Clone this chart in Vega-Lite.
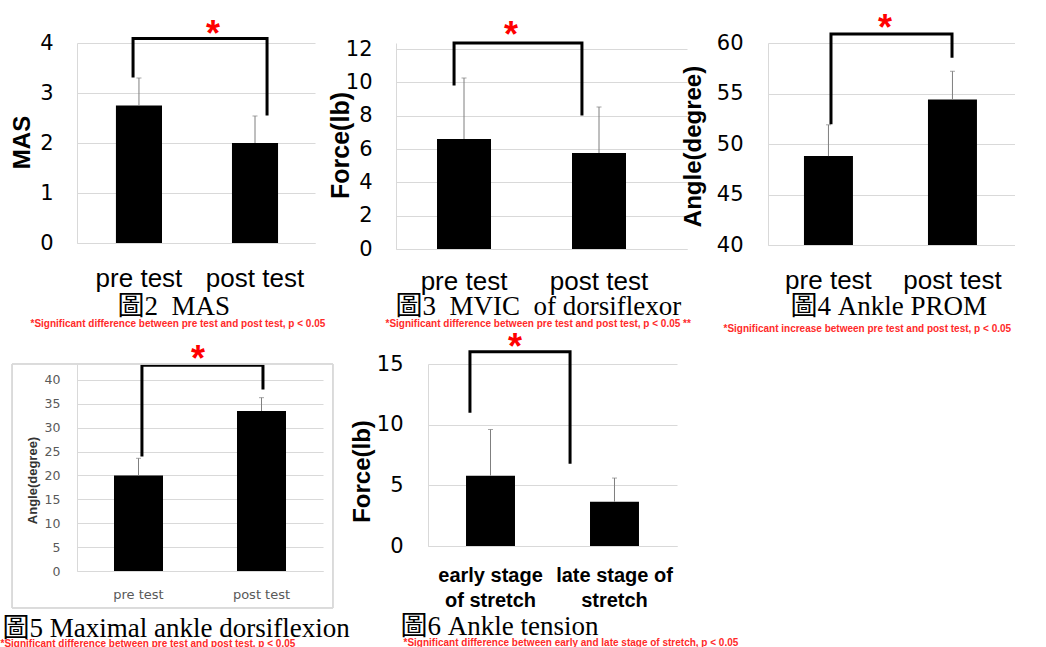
{
  "$schema": "https://vega.github.io/schema/vega-lite/v6.json",
  "background": "white",
  "padding": {"left": 0, "top": 10, "right": 0, "bottom": 0},
  "bounds": "flush",
  "spacing": 321,
  "config": {
    "view": {"stroke": null},
    "axis": {"labelOverlap": false, "ticks": false, "tickSize": 0, "gridColor": "#d9d9d9", "domainColor": "#d9d9d9", "labelColor": "#000000", "titleColor": "#000000", "titleLimit": 1000, "labelLimit": 1000}
  },
  "vconcat": [
    {
      "bounds": "flush",
      "spacing": 81,
      "hconcat": [
        {
          "width": 238, "height": 200,
          "resolve": {"scale": {"x": "independent"}, "axis": {"x": "independent", "y": "independent"}},
          "layer": [
            {
              "data": {"values": [{"group": "pre test", "mean": 2.75, "hi": 3.3}, {"group": "post test", "mean": 2.0, "hi": 2.54}]},
              "resolve": {"axis": {"y": "independent"}},
              "encoding": {
                "x": {"field": "group", "type": "nominal", "sort": null,
                  "scale": {"paddingInner": 0.603, "paddingOuter": 0.327, "align": 0.513},
                  "axis": {"labelAngle": 0, "grid": false, "domain": true, "labelFont": "Liberation Sans", "labelFontSize": 26, "labelBaseline": "alphabetic", "labelPadding": 43,
                    "title": "圖2\u00a0 MAS", "titleFont": "Liberation Serif, Noto Sans CJK TC", "titleFontSize": 27, "titleFontWeight": "normal", "titleAlign": "left", "titleBaseline": "alphabetic", "titleX": 40, "titleY": 71}}
              },
              "layer": [
                {"mark": {"type": "bar", "color": "#000000"},
                  "encoding": {"y": {"field": "mean", "type": "quantitative", "scale": {"domain": [0, 4], "nice": false},
                    "axis": {"values": [0, 1, 2, 3, 4], "labelOverlap": false, "grid": true, "domain": true, "labelFont": "DejaVu Sans", "labelFontSize": 21, "labelPadding": 24,
                      "title": "MAS", "titleFont": "Liberation Sans", "titleFontSize": 24, "titleFontWeight": "bold", "titleAngle": 270, "titleAlign": "center", "titleBaseline": "middle", "titleX": -55, "titleY": 99}}}},
                {"mark": {"type": "rule", "color": "#7f7f7f", "strokeWidth": 1},
                  "encoding": {"y": {"field": "mean", "type": "quantitative", "scale": {"domain": [0, 4], "nice": false}, "axis": null}, "y2": {"field": "hi"}}},
                {"mark": {"type": "tick", "color": "#7f7f7f", "thickness": 1, "size": 5},
                  "encoding": {"y": {"field": "hi", "type": "quantitative", "scale": {"domain": [0, 4], "nice": false}, "axis": null}}}
              ]
            },
            {
              "data": {"values": [{"bx": 0.471, "by": 3.34, "o": 1}, {"bx": 0.471, "by": 4.09, "o": 2}, {"bx": 1.597, "by": 4.09, "o": 3}, {"bx": 1.597, "by": 2.58, "o": 4}]},
              "mark": {"type": "line", "color": "#000000", "strokeWidth": 3, "strokeCap": "square", "strokeJoin": "miter"},
              "encoding": {
                "x": {"field": "bx", "type": "quantitative", "scale": {"domain": [0, 2], "nice": false, "zero": false},
                  "axis": {"orient": "bottom", "labels": false, "domain": false, "grid": false,
                    "title": "*Significant difference between pre test and post test, p < 0.05", "titleFont": "Liberation Sans", "titleFontSize": 10, "titleFontWeight": "bold", "titleColor": "#ff2a2a", "titleAlign": "left", "titleBaseline": "alphabetic", "titleX": -47, "titleY": 83}},
                "y": {"field": "by", "type": "quantitative", "scale": {"domain": [0, 4], "nice": false}, "axis": null},
                "order": {"field": "o"}
              }
            },
            {
              "data": {"values": [{"sx": 1.143, "sy": 3.95, "s": "*"}]},
              "mark": {"type": "text", "color": "#ff0000", "font": "Liberation Sans", "fontSize": 36, "fontWeight": "bold", "baseline": "alphabetic", "align": "center"},
              "encoding": {
                "x": {"field": "sx", "type": "quantitative", "scale": {"domain": [0, 2], "nice": false, "zero": false}, "axis": null},
                "y": {"field": "sy", "type": "quantitative", "scale": {"domain": [0, 4], "nice": false}, "axis": null},
                "text": {"field": "s"}
              }
            }
          ]
        },
        {
          "width": 291, "height": 206,
          "resolve": {"scale": {"x": "independent"}, "axis": {"x": "independent", "y": "independent"}},
          "layer": [
            {
              "data": {"values": [{"group": "pre test", "mean": 6.6, "hi": 10.26}, {"group": "post test", "mean": 5.76, "hi": 8.52}]},
              "resolve": {"axis": {"y": "independent"}},
              "encoding": {
                "x": {"field": "group", "type": "nominal", "sort": null,
                  "scale": {"paddingInner": 0.6, "paddingOuter": 0.3778, "align": 0.402},
                  "axis": {"labelAngle": 0, "grid": false, "domain": true, "labelFont": "Liberation Sans", "labelFontSize": 26, "labelBaseline": "alphabetic", "labelPadding": 40,
                    "title": "圖3\u00a0 MVIC\u00a0 of dorsiflexor", "titleFont": "Liberation Serif, Noto Sans CJK TC", "titleFontSize": 27, "titleFontWeight": "normal", "titleAlign": "left", "titleBaseline": "alphabetic", "titleX": -1, "titleY": 65}}
              },
              "layer": [
                {"mark": {"type": "bar", "color": "#000000"},
                  "encoding": {"y": {"field": "mean", "type": "quantitative", "scale": {"domain": [0, 12.36], "nice": false},
                    "axis": {"values": [0, 2, 4, 6, 8, 10, 12], "labelOverlap": false, "grid": true, "domain": true, "labelFont": "DejaVu Sans", "labelFontSize": 21, "labelPadding": 24,
                      "title": "Force(lb)", "titleFont": "Liberation Sans", "titleFontSize": 25, "titleFontWeight": "bold", "titleAngle": 270, "titleAlign": "center", "titleBaseline": "middle", "titleX": -56, "titleY": 102}}}},
                {"mark": {"type": "rule", "color": "#7f7f7f", "strokeWidth": 1},
                  "encoding": {"y": {"field": "mean", "type": "quantitative", "scale": {"domain": [0, 12.36], "nice": false}, "axis": null}, "y2": {"field": "hi"}}},
                {"mark": {"type": "tick", "color": "#7f7f7f", "thickness": 1, "size": 5},
                  "encoding": {"y": {"field": "hi", "type": "quantitative", "scale": {"domain": [0, 12.36], "nice": false}, "axis": null}}}
              ]
            },
            {
              "data": {"values": [{"bx": 0.399, "by": 9.9, "o": 1}, {"bx": 0.399, "by": 12.36, "o": 2}, {"bx": 1.278, "by": 12.36, "o": 3}, {"bx": 1.278, "by": 8.1, "o": 4}]},
              "mark": {"type": "line", "color": "#000000", "strokeWidth": 3, "strokeCap": "square", "strokeJoin": "miter"},
              "encoding": {
                "x": {"field": "bx", "type": "quantitative", "scale": {"domain": [0, 2], "nice": false, "zero": false},
                  "axis": {"orient": "bottom", "labels": false, "domain": false, "grid": false,
                    "title": "*Significant difference between pre test and post test, p < 0.05 **", "titleFont": "Liberation Sans", "titleFontSize": 10, "titleFontWeight": "bold", "titleColor": "#ff2a2a", "titleAlign": "left", "titleBaseline": "alphabetic", "titleX": -11, "titleY": 77}},
                "y": {"field": "by", "type": "quantitative", "scale": {"domain": [0, 12.36], "nice": false}, "axis": null},
                "order": {"field": "o"}
              }
            },
            {
              "data": {"values": [{"sx": 0.79, "sy": 12.11, "s": "*"}]},
              "mark": {"type": "text", "color": "#ff0000", "font": "Liberation Sans", "fontSize": 36, "fontWeight": "bold", "baseline": "alphabetic", "align": "center"},
              "encoding": {
                "x": {"field": "sx", "type": "quantitative", "scale": {"domain": [0, 2], "nice": false, "zero": false}, "axis": null},
                "y": {"field": "sy", "type": "quantitative", "scale": {"domain": [0, 12.36], "nice": false}, "axis": null},
                "text": {"field": "s"}
              }
            }
          ]
        },
        {
          "width": 247, "height": 202,
          "resolve": {"scale": {"x": "independent"}, "axis": {"x": "independent", "y": "independent"}},
          "layer": [
            {
              "data": {"values": [{"group": "pre test", "mean": 48.8, "hi": 51.9}, {"group": "post test", "mean": 54.4, "hi": 57.2}]},
              "resolve": {"axis": {"y": "independent"}},
              "encoding": {
                "x": {"field": "group", "type": "nominal", "sort": null,
                  "scale": {"paddingInner": 0.605, "paddingOuter": 0.2984, "align": 0.486},
                  "axis": {"labelAngle": 0, "grid": false, "domain": true, "labelFont": "Liberation Sans", "labelFontSize": 26, "labelBaseline": "alphabetic", "labelPadding": 43,
                    "title": "圖4 Ankle PROM", "titleFont": "Liberation Serif, Noto Sans CJK TC", "titleFontSize": 27, "titleFontWeight": "normal", "titleAlign": "left", "titleBaseline": "alphabetic", "titleX": 22, "titleY": 69}}
              },
              "layer": [
                {"mark": {"type": "bar", "color": "#000000"},
                  "encoding": {"y": {"field": "mean", "type": "quantitative", "scale": {"domain": [40, 60], "nice": false, "zero": false},
                    "axis": {"values": [40, 45, 50, 55, 60], "labelOverlap": false, "grid": true, "domain": true, "labelFont": "DejaVu Sans", "labelFontSize": 21, "labelPadding": 25,
                      "title": "Angle(degree)", "titleFont": "Liberation Sans", "titleFontSize": 24, "titleFontWeight": "bold", "titleAngle": 270, "titleAlign": "center", "titleBaseline": "middle", "titleX": -75, "titleY": 103}},
                    "y2": {"datum": 40}}},
                {"mark": {"type": "rule", "color": "#7f7f7f", "strokeWidth": 1},
                  "encoding": {"y": {"field": "mean", "type": "quantitative", "scale": {"domain": [40, 60], "nice": false, "zero": false}, "axis": null}, "y2": {"field": "hi"}}},
                {"mark": {"type": "tick", "color": "#7f7f7f", "thickness": 1, "size": 5},
                  "encoding": {"y": {"field": "hi", "type": "quantitative", "scale": {"domain": [40, 60], "nice": false, "zero": false}, "axis": null}}}
              ]
            },
            {
              "data": {"values": [{"bx": 0.51, "by": 52.1, "o": 1}, {"bx": 0.51, "by": 60.9, "o": 2}, {"bx": 1.49, "by": 60.9, "o": 3}, {"bx": 1.49, "by": 58.7, "o": 4}]},
              "mark": {"type": "line", "color": "#000000", "strokeWidth": 3, "strokeCap": "square", "strokeJoin": "miter"},
              "encoding": {
                "x": {"field": "bx", "type": "quantitative", "scale": {"domain": [0, 2], "nice": false, "zero": false},
                  "axis": {"orient": "bottom", "labels": false, "domain": false, "grid": false,
                    "title": "*Significant increase between pre test and post test, p < 0.05", "titleFont": "Liberation Sans", "titleFontSize": 10, "titleFontWeight": "bold", "titleColor": "#ff2a2a", "titleAlign": "left", "titleBaseline": "alphabetic", "titleX": -45, "titleY": 86}},
                "y": {"field": "by", "type": "quantitative", "scale": {"domain": [40, 60], "nice": false, "zero": false}, "axis": null},
                "order": {"field": "o"}
              }
            },
            {
              "data": {"values": [{"sx": 0.947, "sy": 60.34, "s": "*"}]},
              "mark": {"type": "text", "color": "#ff0000", "font": "Liberation Sans", "fontSize": 36, "fontWeight": "bold", "baseline": "alphabetic", "align": "center"},
              "encoding": {
                "x": {"field": "sx", "type": "quantitative", "scale": {"domain": [0, 2], "nice": false, "zero": false}, "axis": null},
                "y": {"field": "sy", "type": "quantitative", "scale": {"domain": [40, 60], "nice": false, "zero": false}, "axis": null},
                "text": {"field": "s"}
              }
            }
          ]
        }
      ]
    },
    {
      "bounds": "flush",
      "spacing": 105,
      "hconcat": [
        {
          "width": 246, "height": 207,
          "resolve": {"scale": {"x": "independent"}, "axis": {"x": "independent", "y": "independent"}},
          "layer": [
            {
              "data": {"values": [{"group": "pre test", "mean": 20.0, "hi": 23.6}, {"group": "post test", "mean": 33.5, "hi": 36.3}]},
              "resolve": {"axis": {"y": "independent"}},
              "encoding": {
                "x": {"field": "group", "type": "nominal", "sort": null,
                  "scale": {"paddingInner": 0.6016, "paddingOuter": 0.3008, "align": 0.5},
                  "axis": {"labelAngle": 0, "grid": false, "domain": true, "labelFont": "DejaVu Sans", "labelFontSize": 13, "labelColor": "#595959", "labelBaseline": "alphabetic", "labelPadding": 27,
                    "title": "圖5 Maximal ankle dorsiflexion", "titleFont": "Liberation Serif, Noto Sans CJK TC", "titleFontSize": 27, "titleFontWeight": "normal", "titleAlign": "left", "titleBaseline": "alphabetic", "titleX": -75, "titleY": 65}}
              },
              "layer": [
                {"mark": {"type": "bar", "color": "#000000"},
                  "encoding": {"y": {"field": "mean", "type": "quantitative", "scale": {"domain": [0, 43.35], "nice": false},
                    "axis": {"values": [0, 5, 10, 15, 20, 25, 30, 35, 40], "labelOverlap": false, "grid": true, "domain": true, "labelFont": "DejaVu Sans", "labelFontSize": 12.5, "labelColor": "#595959", "labelPadding": 17,
                      "title": "Angle(degree)", "titleFont": "Liberation Sans", "titleFontSize": 13, "titleFontWeight": "bold", "titleColor": "#333333", "titleAngle": 270, "titleAlign": "center", "titleBaseline": "middle", "titleX": -45, "titleY": 116}}}},
                {"mark": {"type": "rule", "color": "#7f7f7f", "strokeWidth": 1},
                  "encoding": {"y": {"field": "mean", "type": "quantitative", "scale": {"domain": [0, 43.35], "nice": false}, "axis": null}, "y2": {"field": "hi"}}},
                {"mark": {"type": "tick", "color": "#7f7f7f", "thickness": 1, "size": 5},
                  "encoding": {"y": {"field": "hi", "type": "quantitative", "scale": {"domain": [0, 43.35], "nice": false}, "axis": null}}}
              ]
            },
            {
              "data": {"values": [{"bx": 0.528, "by": 24.3, "o": 1}, {"bx": 0.528, "by": 43.1, "o": 2}, {"bx": 1.512, "by": 43.1, "o": 3}, {"bx": 1.512, "by": 38.3, "o": 4}]},
              "resolve": {"axis": {"y": "independent"}},
              "layer": [
                {
                  "mark": {"type": "line", "color": "#000000", "strokeWidth": 3, "strokeCap": "square", "strokeJoin": "miter"},
                  "encoding": {
                    "x": {"field": "bx", "type": "quantitative", "scale": {"domain": [0, 2], "nice": false, "zero": false},
                      "axis": {"orient": "bottom", "labels": false, "domain": false, "grid": false,
                        "title": "*Significant difference between pre test and post test, p < 0.05", "titleFont": "Liberation Sans", "titleFontSize": 10, "titleFontWeight": "bold", "titleColor": "#ff2a2a", "titleAlign": "left", "titleBaseline": "alphabetic", "titleX": -77, "titleY": 75}},
                    "y": {"field": "by", "type": "quantitative", "scale": {"domain": [0, 43.35], "nice": false}, "axis": null},
                    "order": {"field": "o"}
                  }
                },
                {
                  "mark": {"type": "rect", "fill": null, "stroke": "#d9d9d9", "strokeWidth": 1},
                  "encoding": {
                    "x": {"datum": -0.528, "type": "quantitative"},
                    "x2": {"datum": 2.081},
                    "y": {"datum": 43.35, "type": "quantitative", "axis": null},
                    "y2": {"datum": -7.75}
                  }
                }
              ]
            },
            {
              "data": {"values": [{"sx": 0.984, "sy": 41.9, "s": "*"}]},
              "mark": {"type": "text", "color": "#ff0000", "font": "Liberation Sans", "fontSize": 36, "fontWeight": "bold", "baseline": "alphabetic", "align": "center"},
              "encoding": {
                "x": {"field": "sx", "type": "quantitative", "scale": {"domain": [0, 2], "nice": false, "zero": false}, "axis": null},
                "y": {"field": "sy", "type": "quantitative", "scale": {"domain": [0, 43.35], "nice": false}, "axis": null},
                "text": {"field": "s"}
              }
            }
          ]
        },
        {
          "width": 249, "height": 182,
          "resolve": {"scale": {"x": "independent"}, "axis": {"x": "independent", "y": "independent"}},
          "layer": [
            {
              "data": {"values": [{"group": "early stage of stretch", "mean": 5.8, "hi": 9.6}, {"group": "late stage of stretch", "mean": 3.65, "hi": 5.6}]},
              "resolve": {"axis": {"y": "independent"}},
              "encoding": {
                "x": {"field": "group", "type": "nominal", "sort": null,
                  "scale": {"paddingInner": 0.605, "paddingOuter": 0.3066, "align": 0.5},
                  "axis": {"labelAngle": 0, "grid": false, "domain": true, "labelFont": "Liberation Sans", "labelFontSize": 20, "labelFontWeight": "bold", "labelBaseline": "alphabetic", "labelPadding": 35, "labelLineHeight": 25,
                    "labelExpr": "datum.value == 'early stage of stretch' ? ['early stage', 'of stretch'] : ['late stage of', 'stretch']",
                    "title": "圖6 Ankle tension", "titleFont": "Liberation Serif, Noto Sans CJK TC", "titleFontSize": 27, "titleFontWeight": "normal", "titleAlign": "left", "titleBaseline": "alphabetic", "titleX": -28, "titleY": 88}}
              },
              "layer": [
                {"mark": {"type": "bar", "color": "#000000"},
                  "encoding": {"y": {"field": "mean", "type": "quantitative", "scale": {"domain": [0, 15], "nice": false},
                    "axis": {"values": [0, 5, 10, 15], "labelOverlap": false, "grid": true, "domain": true, "labelFont": "DejaVu Sans", "labelFontSize": 21, "labelPadding": 25,
                      "title": "Force(lb)", "titleFont": "Liberation Sans", "titleFontSize": 24, "titleFontWeight": "bold", "titleAngle": 270, "titleAlign": "center", "titleBaseline": "middle", "titleX": -66, "titleY": 107}}}},
                {"mark": {"type": "rule", "color": "#7f7f7f", "strokeWidth": 1},
                  "encoding": {"y": {"field": "mean", "type": "quantitative", "scale": {"domain": [0, 15], "nice": false}, "axis": null}, "y2": {"field": "hi"}}},
                {"mark": {"type": "tick", "color": "#7f7f7f", "thickness": 1, "size": 5},
                  "encoding": {"y": {"field": "hi", "type": "quantitative", "scale": {"domain": [0, 15], "nice": false}, "axis": null}}}
              ]
            },
            {
              "data": {"values": [{"bx": 0.337, "by": 11.1, "o": 1}, {"bx": 0.337, "by": 16.0, "o": 2}, {"bx": 1.141, "by": 16.0, "o": 3}, {"bx": 1.141, "by": 6.9, "o": 4}]},
              "mark": {"type": "line", "color": "#000000", "strokeWidth": 3, "strokeCap": "square", "strokeJoin": "miter"},
              "encoding": {
                "x": {"field": "bx", "type": "quantitative", "scale": {"domain": [0, 2], "nice": false, "zero": false},
                  "axis": {"orient": "bottom", "labels": false, "domain": false, "grid": false,
                    "title": "*Significant difference between early and late stage of stretch, p < 0.05", "titleFont": "Liberation Sans", "titleFontSize": 10, "titleFontWeight": "bold", "titleColor": "#ff2a2a", "titleAlign": "left", "titleBaseline": "alphabetic", "titleX": -25, "titleY": 99}},
                "y": {"field": "by", "type": "quantitative", "scale": {"domain": [0, 15], "nice": false}, "axis": null},
                "order": {"field": "o"}
              }
            },
            {
              "data": {"values": [{"sx": 0.699, "sy": 15.45, "s": "*"}]},
              "mark": {"type": "text", "color": "#ff0000", "font": "Liberation Sans", "fontSize": 36, "fontWeight": "bold", "baseline": "alphabetic", "align": "center"},
              "encoding": {
                "x": {"field": "sx", "type": "quantitative", "scale": {"domain": [0, 2], "nice": false, "zero": false}, "axis": null},
                "y": {"field": "sy", "type": "quantitative", "scale": {"domain": [0, 15], "nice": false}, "axis": null},
                "text": {"field": "s"}
              }
            }
          ]
        }
      ]
    }
  ]
}
